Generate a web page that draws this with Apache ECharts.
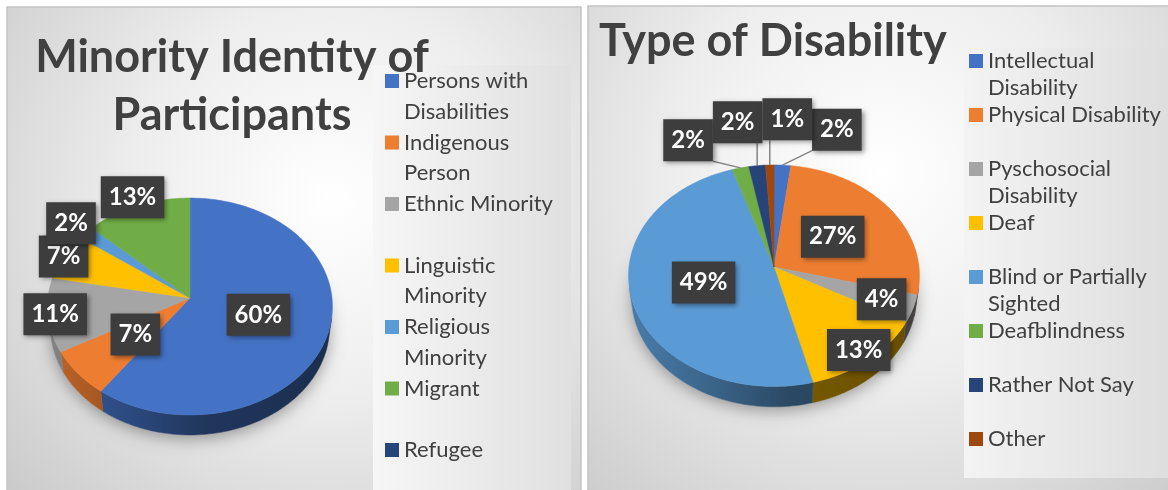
<!DOCTYPE html>
<html>
<head>
<meta charset="utf-8">
<script src="https://cdn.jsdelivr.net/npm/echarts@6/dist/echarts.min.js"></script>
<style>
  html, body { margin: 0; padding: 0; background: #ffffff; }
  #chart { width: 1168px; height: 490px; }
</style>
</head>
<body>
<div id="chart"></div>
<script>
// ---- Minority identity of participants (percent of respondents) ----
const minorityLegend = ['Persons with\nDisabilities', 'Indigenous\nPerson', 'Ethnic Minority',
  'Linguistic\nMinority', 'Religious\nMinority', 'Migrant', 'Refugee'];
const minorityShares = [60, 7, 11, 7, 2, 13, 0];
const minorityColors = ['#4472C4', '#ED7D31', '#A5A5A5', '#FFC000', '#5B9BD5', '#70AD47', '#264478'];

// ---- Type of disability (percent of respondents) ----
const disabilityLegend = ['Intellectual\nDisability', 'Physical Disability', 'Pyschosocial\nDisability',
  'Deaf', 'Blind or Partially\nSighted', 'Deafblindness', 'Rather Not Say', 'Other'];
const disabilityShares = [2, 27, 4, 13, 49, 2, 2, 1];
const disabilityColors = ['#4472C4', '#ED7D31', '#A5A5A5', '#FFC000', '#5B9BD5', '#70AD47', '#264478', '#9E480E'];

// ---- 3D pie camera: tilt, viewing distance (in radii) and disc thickness ----
const ALPHA = 49.4 * Math.PI / 180;
const SIN_A = Math.sin(ALPHA), COS_A = Math.cos(ALPHA);
const VIEW_DIST = 8.3;
const THICKNESS = 0.23;
const WALL_FROM = Math.acos(-1 / (VIEW_DIST * COS_A)) * 180 / Math.PI;
const WALL_TO = 360 - WALL_FROM;

const LABEL_FONT = 24, LABEL_LINE = 28, LABEL_PAD_X = 8, LABEL_PAD_Y = 7, OUT_LIFT = 46;

// label placement: radial factor on the top face, or 'out' for leader-line labels
const pies = [
  { legendText: minorityLegend, shares: minorityShares, colors: minorityColors,
    cx: 190, cy: 298, r: 142, labelAt: [0.5, 0.5, 0.95, 1.0, 1.15, 1.1, 1] },
  { legendText: disabilityLegend, shares: disabilityShares, colors: disabilityColors,
    cx: 774, cy: 267, r: 145, labelAt: ['out', 0.5, 0.78, 0.9, 0.5, 'out', 'out', 'out'] }
];

function project(p, X, Y, Z) {
  const depth = VIEW_DIST + Y * COS_A - Z * SIN_A;
  const k = VIEW_DIST / depth;
  return [p.cx + p.r * X * k, p.cy - p.r * (Y * SIN_A + Z * COS_A) * k];
}
function rimPoint(p, deg, rad, Z) {
  const t = deg * Math.PI / 180;
  return project(p, rad * Math.sin(t), rad * Math.cos(t), Z);
}
function arc(p, d0, d1, Z) {
  const n = Math.max(2, Math.ceil(Math.abs(d1 - d0) / 1.5));
  const pts = [];
  for (let j = 0; j <= n; j++) pts.push(rimPoint(p, d0 + (d1 - d0) * j / n, 1, Z));
  return pts;
}
function shade(hex, f) {
  const n = parseInt(hex.slice(1), 16);
  return 'rgb(' + [(n >> 16) & 255, (n >> 8) & 255, n & 255].map(c => Math.round(c * f)).join(',') + ')';
}
function backEdgeY(p, x) {
  let best = p.cy, bd = Infinity;
  for (let d = -120; d <= 120; d += 0.5) {
    const q = rimPoint(p, d, 1, 0);
    const dd = Math.abs(q[0] - x);
    if (dd < bd) { bd = dd; best = q[1]; }
  }
  return best;
}

const measureCtx = document.createElement('canvas').getContext('2d');
measureCtx.font = 'bold ' + LABEL_FONT + 'px Lato';

function spreadOuter(p) {
  const outs = p.labels.filter((l, i) => l.out && p.shares[i] > 0)
    .sort((a, b) => a.anchor[0] - b.anchor[0]);
  const clusters = outs.map(l => ({ items: [l] }));
  const stats = c => ({
    width: c.items.reduce((s, l) => s + l.w, 0),
    center: c.items.reduce((s, l) => s + l.anchor[0], 0) / c.items.length
  });
  let merged = true;
  while (merged) {
    merged = false;
    for (let k = 0; k < clusters.length - 1; k++) {
      const a = stats(clusters[k]), b = stats(clusters[k + 1]);
      if (a.center + a.width / 2 > b.center - b.width / 2) {
        clusters[k].items = clusters[k].items.concat(clusters[k + 1].items);
        clusters.splice(k + 1, 1);
        merged = true;
        break;
      }
    }
  }
  clusters.forEach(c => {
    const s = stats(c);
    let x = s.center - s.width / 2;
    c.items.forEach(l => {
      l.x = x + l.w / 2;
      x += l.w;
      l.y = backEdgeY(p, l.x) - OUT_LIFT;
      const x0 = l.x - l.w / 2, x1 = l.x + l.w / 2, y0 = l.y - l.h / 2, y1 = l.y + l.h / 2;
      const nx = Math.min(Math.max(l.anchor[0], x0), x1);
      const ny = Math.min(Math.max(l.anchor[1], y0), y1);
      l.leader = { x1: l.anchor[0], y1: l.anchor[1], x2: nx, y2: ny };
    });
  });
}

pies.forEach(p => {
  p.names = p.legendText.map(t => t.replace('\n', ' '));
  const total = p.shares.reduce((a, b) => a + b, 0);
  let acc = 0;
  p.start = []; p.end = []; p.mid = [];
  p.shares.forEach((v, i) => {
    p.start[i] = acc / total * 360;
    acc += v;
    p.end[i] = acc / total * 360;
    p.mid[i] = (p.start[i] + p.end[i]) / 2;
  });
  p.labels = p.shares.map((v, i) => {
    const text = v + '%';
    const w = measureCtx.measureText(text).width + 2 * LABEL_PAD_X;
    const h = LABEL_LINE + 2 * LABEL_PAD_Y;
    const at = p.labelAt[i];
    if (at === 'out') return { text, w, h, out: true, anchor: rimPoint(p, p.mid[i], 1, 0) };
    const q = rimPoint(p, p.mid[i], at, 0);
    return { text, w, h, x: q[0], y: q[1] };
  });
  spreadOuter(p);
});

function wallFill(p, color) {
  return new echarts.graphic.LinearGradient(p.cx - p.r, 0, p.cx + p.r, 0, [
    { offset: 0, color: shade(color, 0.8) },
    { offset: 0.3, color: shade(color, 0.64) },
    { offset: 0.55, color: shade(color, 0.47) },
    { offset: 1, color: shade(color, 0.4) }
  ], true);
}

function sliceRenderer(p, i) {
  return function () {
    const a0 = p.start[i], a1 = p.end[i];
    if (!(a1 > a0)) return null;
    const color = p.colors[i];
    const children = [];
    const w0 = Math.max(a0, WALL_FROM), w1 = Math.min(a1, WALL_TO);
    if (w1 > w0) {
      const fill = wallFill(p, color);
      children.push({
        type: 'polygon',
        shape: { points: arc(p, w0, w1, 0).concat(arc(p, w1, w0, -THICKNESS)) },
        style: { fill: fill, stroke: fill, lineWidth: 0.5 }
      });
    }
    children.push({
      type: 'polygon',
      shape: { points: [project(p, 0, 0, 0)].concat(arc(p, a0, a1, 0)) },
      style: { fill: color, stroke: color, lineWidth: 0.5 }
    });
    const lab = p.labels[i];
    if (lab.leader) {
      children.push({
        type: 'line', z2: 90, shape: lab.leader,
        style: { stroke: '#858585', lineWidth: 1.5 }
      });
    }
    children.push({
      type: 'text', z2: 100, x: lab.x, y: lab.y,
      style: {
        text: lab.text, fill: '#ffffff',
        fontFamily: 'Lato', fontWeight: 'bold', fontSize: LABEL_FONT, lineHeight: LABEL_LINE,
        align: 'center', verticalAlign: 'middle',
        backgroundColor: '#3d3d3d', padding: [LABEL_PAD_Y, LABEL_PAD_X],
        shadowColor: 'rgba(0,0,0,0.45)', shadowBlur: 5, shadowOffsetX: 2, shadowOffsetY: 2
      }
    });
    return { type: 'group', children: children };
  };
}

const series = [];
pies.forEach(p => {
  p.names.forEach((name, i) => {
    series.push({
      type: 'custom', name: name, coordinateSystem: 'none', silent: true,
      itemStyle: { color: p.colors[i] },
      data: [p.shares[i]],
      renderItem: sliceRenderer(p, i)
    });
  });
});

const backdrop = [
  { type: 'rect', z: 0, shape: { x: 7, y: 7, width: 574, height: 490 },
    style: { fill: new echarts.graphic.RadialGradient(330, 200, 430, [
      { offset: 0, color: '#ffffff' }, { offset: 0.45, color: '#eeeeee' }, { offset: 1, color: '#cbcbcb' }], true),
      stroke: '#c4c4c4', lineWidth: 1.5 } },
  { type: 'rect', z: 0, shape: { x: 588, y: 6, width: 590, height: 490 },
    style: { fill: new echarts.graphic.RadialGradient(880, 170, 450, [
      { offset: 0, color: '#ffffff' }, { offset: 0.45, color: '#eeeeee' }, { offset: 1, color: '#cbcbcb' }], true),
      stroke: '#c4c4c4', lineWidth: 1.5 } },
  { type: 'rect', z: 0, shape: { x: 373, y: 65, width: 198, height: 430 },
    style: { fill: new echarts.graphic.LinearGradient(373, 0, 571, 0, [
      { offset: 0, color: '#f6f6f6' }, { offset: 1, color: '#e0e0e0' }], true) } },
  { type: 'rect', z: 0, shape: { x: 964, y: 48, width: 210, height: 430 },
    style: { fill: new echarts.graphic.LinearGradient(964, 0, 1168, 0, [
      { offset: 0, color: '#f3f3f3' }, { offset: 1, color: '#dedede' }], true) } }
];
pies.forEach(p => {
  backdrop.push({
    type: 'polygon', z: 1, shape: { points: arc(p, 0, 360, -THICKNESS) },
    style: { fill: '#d8d8d8', shadowBlur: 16, shadowColor: 'rgba(0,0,0,0.35)', shadowOffsetY: 4 }
  });
});

const legendIcons = [
  'path://M0,0h0.01M14,61.5h-0.01M0,8.4h14v14h-14z',
  'path://M0,0h0.01M14,54h-0.01M0,6.5h14v14h-14z'
];

const chart = echarts.init(document.getElementById('chart'), null, { renderer: 'canvas' });
chart.setOption({
  animation: false,
  backgroundColor: '#ffffff',
  title: [
    { text: 'Minority Identity of\nParticipants', left: 232, top: 28, textAlign: 'center', padding: 0,
      textStyle: { fontFamily: 'Lato', fontWeight: 'bold', fontSize: 45, lineHeight: 58, color: '#404040' } },
    { text: 'Type of Disability', left: 599, top: 12, padding: 0,
      textStyle: { fontFamily: 'Lato', fontWeight: 'bold', fontSize: 45, lineHeight: 58, color: '#404040' } }
  ],
  legend: pies.map((p, pi) => ({
    data: p.names,
    orient: 'vertical',
    left: pi ? 969 : 385,
    top: pi ? 47.5 : 65.6,
    width: 190,
    height: 480,
    padding: 0,
    itemGap: 0,
    itemWidth: 14,
    itemHeight: pi ? 54 : 61.5,
    icon: legendIcons[pi],
    selectedMode: false,
    formatter: name => {
      const t = p.legendText[p.names.indexOf(name)];
      return t.indexOf('\n') >= 0 ? t : t + '\n ';
    },
    textStyle: { fontFamily: 'Lato', fontSize: 22, color: '#404040', lineHeight: pi ? 27 : 30.75 }
  })),
  graphic: { elements: backdrop },
  series: series
});
</script>
</body>
</html>
